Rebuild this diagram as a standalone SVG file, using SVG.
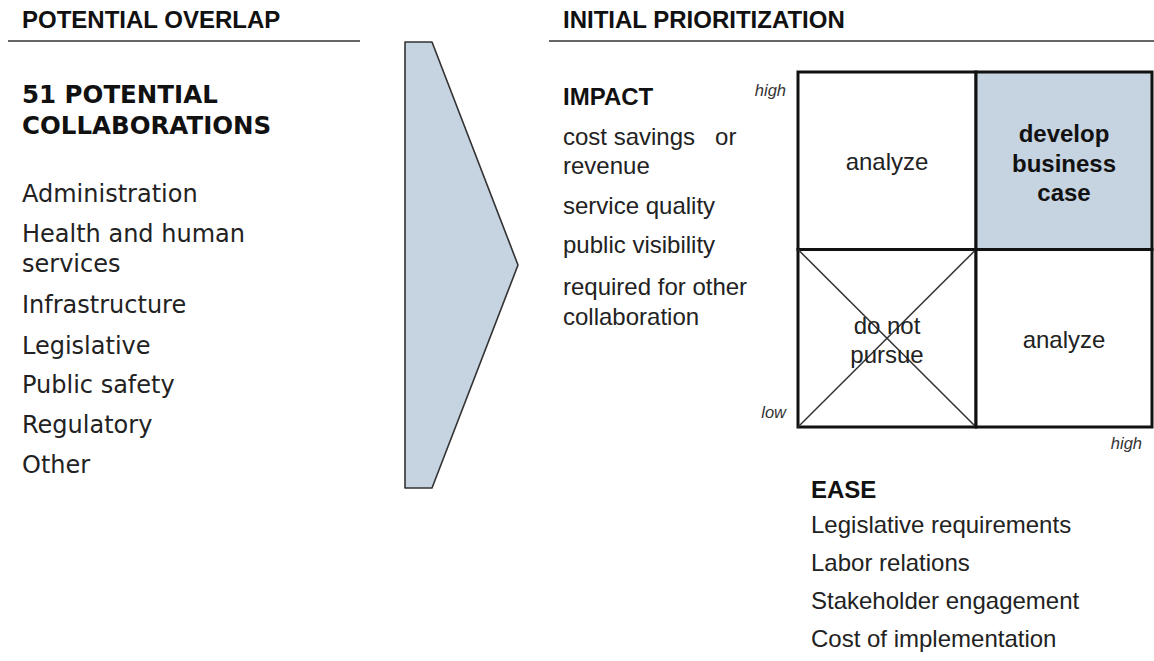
<svg xmlns="http://www.w3.org/2000/svg" width="1154" height="661" viewBox="0 0 1154 661">
<style>
.hdr{font-family:"Liberation Sans",Arial,sans-serif;font-weight:bold;font-size:24px;fill:#111}
.hline{stroke:#333;stroke-width:1.6}
.ver{font-family:"DejaVu Sans",Verdana,sans-serif;font-size:24px;fill:#222}
.verb{font-family:"DejaVu Sans",Verdana,sans-serif;font-size:24.5px;font-weight:bold;fill:#111}
.ar{font-family:"Liberation Sans",Arial,sans-serif;font-size:24px;fill:#222}
.arb{font-family:"Liberation Sans",Arial,sans-serif;font-size:24px;font-weight:bold;fill:#111}
.it{font-family:"Liberation Sans",Arial,sans-serif;font-size:16.5px;font-style:italic;fill:#333}
.cell{fill:#ffffff;stroke:#111;stroke-width:3}
.hl{fill:#c6d3e0}
.diag{stroke:#333;stroke-width:1.5}
.mid{text-anchor:middle}
</style>
<rect width="1154" height="661" fill="#ffffff"/>
<g id="left-header">
<text class="hdr" x="22" y="28">POTENTIAL OVERLAP</text>
<line class="hline" x1="8" y1="41" x2="360" y2="41"/>
</g>
<g id="collaborations">
<text class="verb" x="22" y="103">51 POTENTIAL</text>
<text class="verb" x="22" y="134">COLLABORATIONS</text>
<text class="ver" x="22" y="202">Administration</text>
<text class="ver" x="22" y="242">Health and human</text>
<text class="ver" x="22" y="272">services</text>
<text class="ver" x="22" y="313">Infrastructure</text>
<text class="ver" x="22" y="354">Legislative</text>
<text class="ver" x="22" y="393">Public safety</text>
<text class="ver" x="22" y="433">Regulatory</text>
<text class="ver" x="22" y="473">Other</text>
</g>
<g id="arrow">
<polygon points="405,42 432,42 518,265 432,488 405,488" fill="#c6d3e0" stroke="#333" stroke-width="1.6" stroke-linejoin="round"/>
</g>
<g id="right-header">
<text class="hdr" x="563" y="28">INITIAL PRIORITIZATION</text>
<line class="hline" x1="549" y1="41" x2="1154" y2="41"/>
</g>
<g id="impact">
<text class="arb" x="563" y="105">IMPACT</text>
<text class="ar" x="563" y="145" style="white-space:pre">cost savings   or</text>
<text class="ar" x="563" y="174">revenue</text>
<text class="ar" x="563" y="214">service quality</text>
<text class="ar" x="563" y="253">public visibility</text>
<text class="ar" x="563" y="295">required for other</text>
<text class="ar" x="563" y="325">collaboration</text>
</g>
<g id="axis-labels">
<text class="it" x="786" y="96" text-anchor="end">high</text>
<text class="it" x="786" y="418" text-anchor="end">low</text>
<text class="it" x="1142" y="449" text-anchor="end">high</text>
</g>
<g id="cell-analyze-top">
<rect class="cell" x="798" y="72" width="178" height="177.5"/>
<text class="ar mid" x="887" y="170">analyze</text>
</g>
<g id="cell-develop">
<rect class="cell hl" x="976" y="72" width="176" height="177.5"/>
<text class="arb mid" x="1064" y="142">develop</text>
<text class="arb mid" x="1064" y="171.5">business</text>
<text class="arb mid" x="1064" y="201">case</text>
</g>
<g id="cell-do-not-pursue">
<rect class="cell" x="798" y="249.5" width="178" height="177.5"/>
<line class="diag" x1="798" y1="249.5" x2="976" y2="427"/>
<line class="diag" x1="976" y1="249.5" x2="798" y2="427"/>
<text class="ar mid" x="887" y="334">do not</text>
<text class="ar mid" x="887" y="363">pursue</text>
</g>
<g id="cell-analyze-bottom">
<rect class="cell" x="976" y="249.5" width="176" height="177.5"/>
<text class="ar mid" x="1064" y="348">analyze</text>
</g>
<g id="ease">
<text class="arb" x="811" y="498">EASE</text>
<text class="ar" x="811" y="533">Legislative requirements</text>
<text class="ar" x="811" y="571">Labor relations</text>
<text class="ar" x="811" y="609">Stakeholder engagement</text>
<text class="ar" x="811" y="647">Cost of implementation</text>
</g>
<g id="connectors"></g>
</svg>
